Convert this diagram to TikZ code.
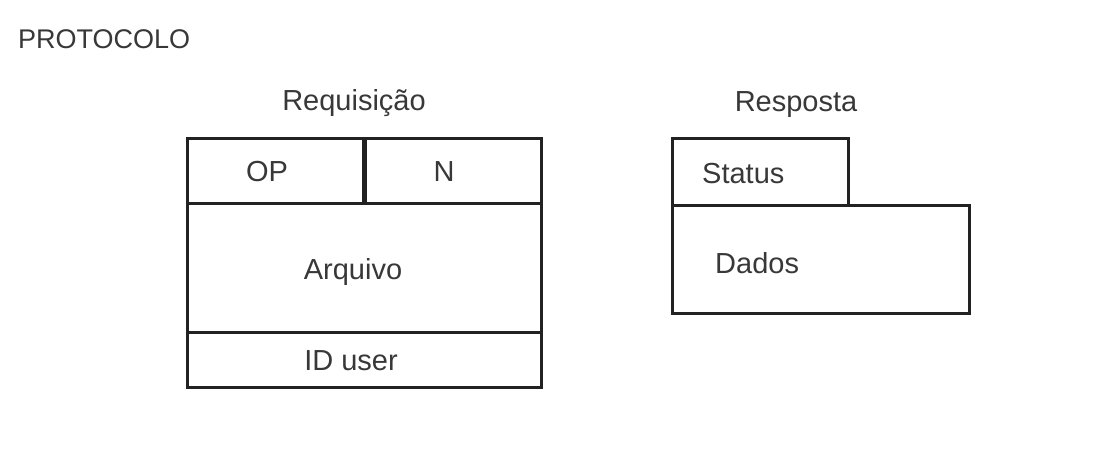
\documentclass[tikz,border=0pt]{standalone}
\usepackage{fontspec}
\setmainfont{Liberation Sans}
\usetikzlibrary{positioning}
\definecolor{inkgray}{HTML}{383838}
\definecolor{boxline}{HTML}{222222}
\newcommand{\fieldw}{3pt}

\begin{document}
\begin{tikzpicture}[x=1pt,y=-1pt,
    field/.style={draw=boxline, line width=\fieldw, anchor=north west, inner sep=0pt, outer sep=0pt},
    fieldtxt/.style={text=inkgray, inner sep=0pt, font=\fontsize{29}{34}\selectfont},
    titletxt/.style={fieldtxt}]
            %\draw[help lines] (0,0) grid (1098,463);
            \useasboundingbox (0,0) rectangle (1098,463);
            \node[titletxt, anchor=west, font=\fontsize{27}{32}\selectfont] (prot) at (18,39) {PROTOCOLO};
            % requisicao
            \node[titletxt] (req) at (354,103) {Requisição};
            \node[field, minimum width=176, minimum height=65] (op) at (187,138) {};
            \node[field, minimum width=176, minimum height=65] (n) at (365,138) {};
            \node[field, minimum width=354, minimum height=129] (arq) at (187,203) {};
            \node[field, minimum width=354, minimum height=55] (idu) at (187,332) {};
            \node[fieldtxt] (optxt) at ([xshift=-8,yshift=-1]op.center) {OP};
            \node[fieldtxt] (ntxt) at ([xshift=-9,yshift=-1.5]n.center) {N};
            \node[fieldtxt] (arqtxt) at ([xshift=-11,yshift=-4]arq.center) {Arquivo};
            \node[fieldtxt] (idutxt) at ([xshift=-13,yshift=-1.5]idu.center) {ID user};
            % resposta
            \node[titletxt] (resp) at (796,105) {Resposta};
            \node[field, minimum width=176, minimum height=67] (stat) at (672,138) {};
            \node[field, minimum width=297, minimum height=108] (dad) at (672,205) {};
            \node[fieldtxt, anchor=west] (stattxt) at ([xshift=30,yshift=-2]stat.west) {Status};
            \node[fieldtxt, anchor=west] (dadtxt) at ([xshift=43,yshift=-4.5]dad.west) {Dados};
        \end{tikzpicture}
\end{document}
